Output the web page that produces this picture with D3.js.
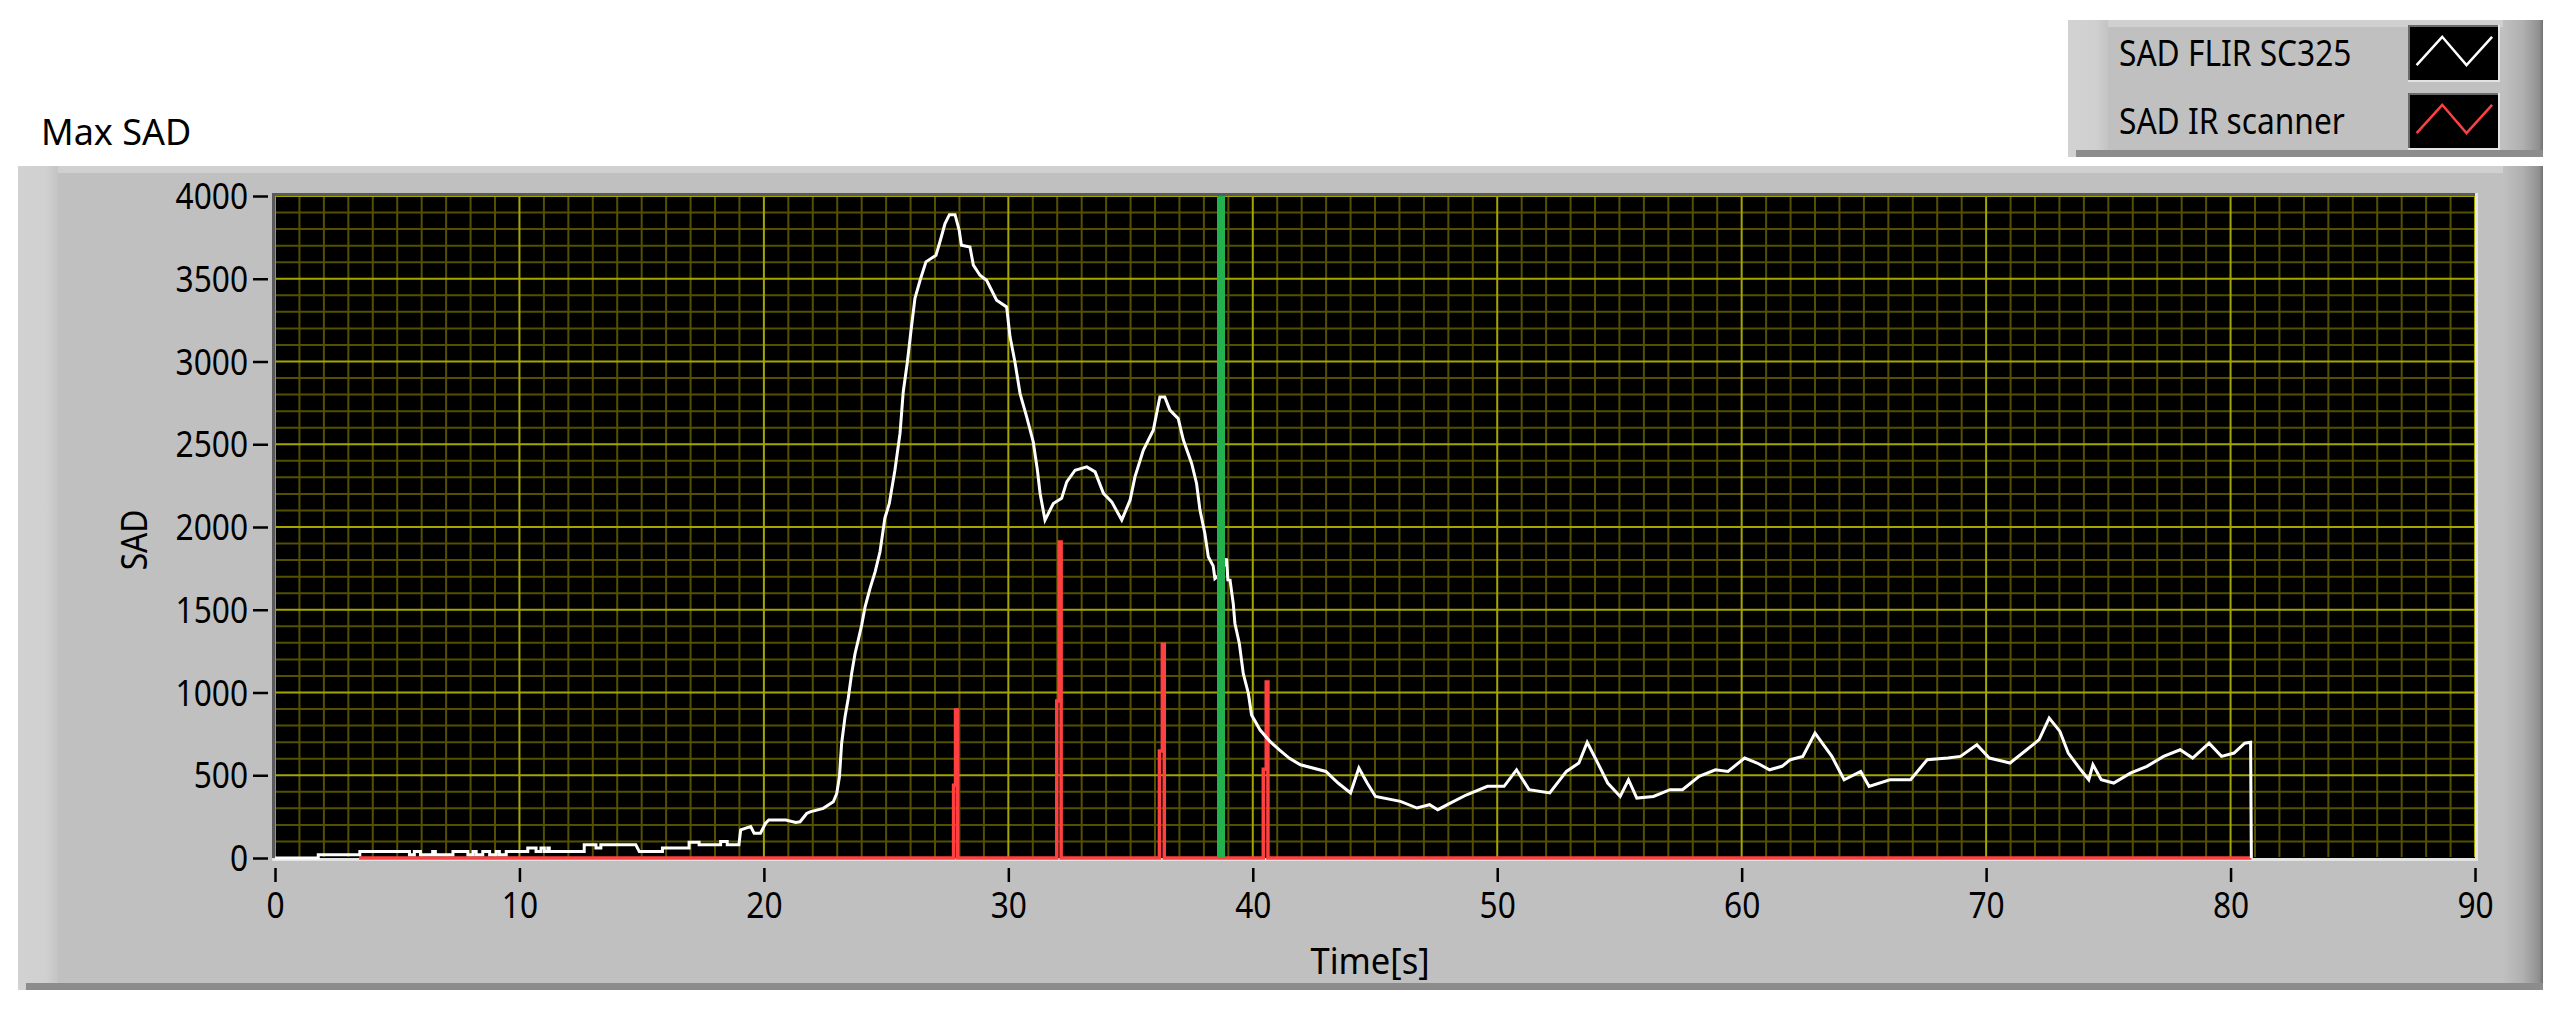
<!DOCTYPE html>
<html>
<head>
<meta charset="utf-8">
<script src="https://cdn.jsdelivr.net/npm/d3@7"></script>
<style>
  html, body { margin: 0; padding: 0; background: #ffffff; }
  svg { display: block; }
  text { font-family: "Noto Sans", "Open Sans", sans-serif; fill: #000; }
</style>
</head>
<body>
<svg id="chart" width="2564" height="1012"></svg>
<script>
// ---------------- DATA ----------------
const chartTitle = "Max SAD";
const xAxisTitle = "Time[s]";
const yAxisTitle = "SAD";
const seriesNames = ["SAD FLIR SC325", "SAD IR scanner"];
const seriesColors = ["#ffffff", "#ff4040"];

const xTicks = [0, 10, 20, 30, 40, 50, 60, 70, 80, 90];
const yTicks = [0, 500, 1000, 1500, 2000, 2500, 3000, 3500, 4000];
const cursorTime = 38.7;

// SAD FLIR SC325 (time [s], SAD)
const flirTime = [
  0, 1.77, 1.77, 3.47, 3.47, 5.5, 5.5, 5.7, 5.7, 5.95, 5.95, 6.45, 6.45, 6.56, 6.56,
  7.28, 7.28, 7.89, 7.89, 8.1, 8.1, 8.23, 8.23, 8.5, 8.5, 8.78, 8.78, 9.05, 9.05, 9.18, 9.18,
  9.46, 9.46, 10.34, 10.34, 10.68, 10.68, 10.88, 10.88, 11.02, 11.02, 11.16, 11.16, 11.22, 11.22,
  12.65, 12.65, 13.13, 13.13, 13.33, 13.33, 14.76, 14.9, 15.85, 15.85, 16.94, 16.94, 17.35, 17.35,
  18.23, 18.23, 18.5, 18.5, 18.98, 19.05, 19.46, 19.6, 19.86, 20.07, 20.2, 20.9, 21.3,
  21.48, 21.75, 21.89, 22.43, 22.84, 22.98, 23.09, 23.18, 23.32, 23.45, 23.59, 23.73, 23.86,
  24.0, 24.14, 24.34, 24.55, 24.75, 24.95, 25.13, 25.36, 25.57, 25.70, 25.87, 26.02, 26.18,
  26.39, 26.63, 27.04, 27.20, 27.41, 27.59, 27.82, 27.99, 28.08, 28.43, 28.57, 28.84, 29.11,
  29.52, 29.93, 30.07, 30.27, 30.48, 30.75, 31.02, 31.19, 31.30, 31.50, 31.84, 32.18, 32.39,
  32.73, 33.21, 33.55, 33.89, 34.23, 34.64, 34.98, 35.18, 35.52, 35.93, 36.20, 36.40, 36.61,
  36.95, 37.16, 37.50, 37.70, 37.84, 38.04, 38.18, 38.38, 38.45, 38.7, 38.93, 38.98, 39.07,
  39.20, 39.27, 39.45, 39.61, 39.82, 39.95, 40.3, 40.7, 41.1, 41.5, 41.95, 42.99, 43.49,
  44.0, 44.34, 44.68, 45.02, 46.04, 46.72, 47.23, 47.57, 48.08, 48.75, 49.6, 50.28, 50.79,
  51.3, 52.15, 52.83, 53.34, 53.68, 54.01, 54.52, 55.03, 55.37, 55.71, 56.39, 57.07, 57.58,
  58.26, 58.93, 59.44, 60.12, 60.63, 61.14, 61.65, 61.99, 62.5, 63.0, 63.69, 64.19, 64.87,
  65.21, 66.06, 66.91, 67.59, 68.44, 68.95, 69.62, 70.13, 70.98, 71.66, 72.17, 72.58, 73.02,
  73.36, 73.87, 74.2, 74.37, 74.71, 75.22, 75.9, 76.58, 77.26, 77.94, 78.45, 79.12, 79.63,
  80.14, 80.58, 80.82, 80.85
];
const flirValue = [
  0, 0, 20, 20, 40, 40, 20, 20, 40, 40, 20, 20, 40, 40, 20,
  20, 40, 40, 20, 20, 40, 40, 20, 20, 40, 40, 20, 20, 40, 40, 20,
  20, 40, 40, 60, 60, 40, 40, 60, 60, 40, 40, 60, 60, 40,
  40, 80, 80, 60, 60, 80, 80, 40, 40, 60, 60, 95, 95, 80,
  80, 100, 100, 80, 80, 170, 190, 150, 150, 210, 230, 230, 215,
  219, 269, 279, 300, 340, 390, 491, 692, 853, 964, 1115, 1236, 1317,
  1407, 1518, 1628, 1729, 1850, 2054, 2142, 2343, 2567, 2816, 2997, 3189, 3382,
  3491, 3602, 3642, 3722, 3833, 3887, 3887, 3793, 3702, 3692, 3582, 3521, 3491,
  3370, 3330, 3149, 2997, 2806, 2665, 2514, 2343, 2203, 2042, 2142, 2173, 2273,
  2343, 2363, 2333, 2203, 2152, 2042, 2162, 2303, 2464, 2585, 2786, 2786, 2706,
  2655, 2525, 2384, 2263, 2102, 1961, 1820, 1765, 1688, 1720, 1809, 1680, 1679,
  1538, 1417, 1296, 1115, 994, 864, 773, 705, 652, 602, 563, 523, 453,
  393, 544, 453, 372, 342, 302, 322, 292, 332, 382, 433, 433, 533,
  413, 393, 523, 574, 699, 604, 453, 372, 473, 362, 372, 413, 413,
  493, 533, 523, 604, 574, 533, 554, 594, 614, 755, 614, 473, 523,
  433, 473, 473, 594, 604, 614, 684, 604, 574, 654, 715, 845, 765,
  634, 533, 473, 564, 473, 453, 513, 554, 614, 654, 604, 694, 614,
  634, 694, 699, 0
];

// SAD IR scanner (time [s], SAD)
const irTime = [
  3.44, 27.76, 27.76, 27.84, 27.84, 27.92, 27.92,
  31.98, 31.98, 32.08, 32.08, 32.16, 32.16,
  36.18, 36.18, 36.3, 36.3, 36.38, 36.38,
  40.43, 40.43, 40.55, 40.55, 40.62, 40.62, 80.85
];
const irValue = [
  0, 0, 440, 440, 894, 894, 0,
  0, 948, 948, 1910, 1910, 0,
  0, 646, 646, 1292, 1292, 0,
  0, 537, 537, 1063, 1063, 0, 0
];

// ---------------- DRAW ----------------
const svg = d3.select("#chart");
const FONT = 36, SX = 0.88;

const plotL = 275, plotR = 2475, plotT = 196, plotB = 858;
const x = d3.scaleLinear().domain([0, 90]).range([plotL, plotR]);
const y = d3.scaleLinear().domain([0, 4000]).range([plotB, plotT]);

const defs = svg.append("defs");
function grad(id, stops, horiz) {
  const g = defs.append("linearGradient").attr("id", id)
    .attr("x1", 0).attr("y1", 0).attr("x2", horiz ? 1 : 0).attr("y2", horiz ? 0 : 1);
  stops.forEach(s => g.append("stop").attr("offset", s[0]).attr("stop-color", s[1]));
}
grad("leftStrip", [[0, "#d2d2d2"], [0.7, "#d0d0d0"], [1, "#c4c4c4"]], true);
grad("rightStrip", [[0, "#c0c0c0"], [0.5, "#b0b0b0"], [0.9, "#909090"], [1, "#707070"]], true);

function panel(x0, y0, x1, y1) {
  const g = svg.append("g");
  g.append("rect").attr("x", x0).attr("y", y0).attr("width", x1 - x0).attr("height", y1 - y0).attr("fill", "#c0c0c0");
  g.append("rect").attr("x", x0).attr("y", y0).attr("width", x1 - x0).attr("height", 7).attr("fill", "#d0d0d0");
  g.append("rect").attr("x", x0).attr("y", y0).attr("width", 40).attr("height", y1 - y0).attr("fill", "url(#leftStrip)");
  g.append("rect").attr("x", x1 - 40).attr("y", y0).attr("width", 40).attr("height", y1 - y0).attr("fill", "url(#rightStrip)");
  g.append("rect").attr("x", x0 + 8).attr("y", y1 - 7).attr("width", x1 - x0 - 8).attr("height", 7).attr("fill", "#8c8c8c");
  return g;
}

// main frame
panel(18, 166, 2543, 990);

// plot background
svg.append("rect").attr("x", plotL - 3).attr("y", plotT - 3).attr("width", plotR - plotL + 6).attr("height", plotB - plotT + 6).attr("fill", "#e4e4e4");
svg.append("rect").attr("x", plotL - 3).attr("y", plotT - 3).attr("width", plotR - plotL + 3).attr("height", plotB - plotT + 3).attr("fill", "#5a5a5a");
svg.append("rect").attr("x", plotL).attr("y", plotT).attr("width", plotR - plotL).attr("height", plotB - plotT).attr("fill", "#000");

const clip = defs.append("clipPath").attr("id", "plotClip");
clip.append("rect").attr("x", plotL).attr("y", plotT).attr("width", plotR - plotL).attr("height", plotB - plotT + 2);
const gridClip = defs.append("clipPath").attr("id", "gridClip");
gridClip.append("rect").attr("x", plotL).attr("y", plotT).attr("width", plotR - plotL).attr("height", plotB - plotT - 1);

const grid = svg.append("g").attr("clip-path", "url(#gridClip)");
const minorX = d3.range(0, 91, 1).filter(v => v % 10 !== 0);
const minorY = d3.range(0, 4001, 100).filter(v => v % 500 !== 0);
grid.selectAll(".mx").data(minorX).join("line")
  .attr("x1", d => x(d)).attr("x2", d => x(d)).attr("y1", plotT).attr("y2", plotB)
  .attr("stroke", "#555000").attr("stroke-width", 2);
grid.selectAll(".my").data(minorY).join("line")
  .attr("y1", d => y(d)).attr("y2", d => y(d)).attr("x1", plotL).attr("x2", plotR)
  .attr("stroke", "#555000").attr("stroke-width", 2);
grid.selectAll(".Mx").data(xTicks).join("line")
  .attr("x1", d => x(d)).attr("x2", d => x(d)).attr("y1", plotT).attr("y2", plotB)
  .attr("stroke", "#a5a500").attr("stroke-width", 2);
grid.selectAll(".My").data(yTicks.filter(v => v > 0)).join("line")
  .attr("y1", d => y(d)).attr("y2", d => y(d)).attr("x1", plotL).attr("x2", plotR)
  .attr("stroke", "#a5a500").attr("stroke-width", 2);

// series
const plotG = svg.append("g").attr("clip-path", "url(#plotClip)");
const line = d3.line().x(d => x(d[0])).y(d => y(d[1]));
const irData = irTime.map((t, i) => [t, irValue[i]]);
const flirData = flirTime.map((t, i) => [t, flirValue[i]]);

plotG.append("path").datum(irData).attr("d", line)
  .attr("fill", "none").attr("stroke", seriesColors[1]).attr("stroke-width", 3.5);
plotG.append("path").datum(flirData).attr("d", line)
  .attr("fill", "none").attr("stroke", seriesColors[0]).attr("stroke-width", 3)
  .attr("stroke-linejoin", "miter");

// cursor
plotG.append("line").attr("x1", x(cursorTime)).attr("x2", x(cursorTime))
  .attr("y1", plotT).attr("y2", plotB)
  .attr("stroke", "#22b14c").attr("stroke-width", 8);

// axes
const yAxis = d3.axisLeft(y).tickValues(yTicks).tickSize(15).tickPadding(5).tickFormat(d3.format("d"));
const yG = svg.append("g").attr("transform", "translate(268,0)").call(yAxis);
yG.select(".domain").remove();
yG.selectAll(".tick line").attr("stroke", "#000").attr("stroke-width", 2.5);
yG.selectAll(".tick text").attr("font-size", FONT).attr("font-family", "Noto Sans")
  .attr("x", -20 / SX).attr("transform", `scale(${SX},1)`).attr("dy", "0.35em");

const xAxis = d3.axisBottom(x).tickValues(xTicks).tickSize(14).tickPadding(10).tickFormat(d3.format("d"));
const xG = svg.append("g").attr("transform", "translate(0,868)").call(xAxis);
xG.select(".domain").remove();
xG.selectAll(".tick line").attr("stroke", "#000").attr("stroke-width", 2.5);
xG.selectAll(".tick text").attr("font-size", FONT).attr("font-family", "Noto Sans")
  .attr("transform", `scale(${SX},1)`);

// titles
svg.append("text").attr("transform", `translate(1370,974) scale(0.96,1)`)
  .attr("text-anchor", "middle").attr("font-size", FONT).text(xAxisTitle);
svg.append("text").attr("transform", `translate(147,540) rotate(-90) scale(${SX},1)`)
  .attr("text-anchor", "middle").attr("font-size", FONT).text(yAxisTitle);
svg.append("text").attr("transform", `translate(41,145) scale(1,1)`)
  .attr("font-size", FONT).text(chartTitle);

// legend
const lg = panel(2068, 20, 2543, 157);
const rowY = [53, 121];
seriesNames.forEach((name, i) => {
  lg.append("text").attr("transform", `translate(2119,${rowY[i] + 13}) scale(${SX},1)`)
    .attr("font-size", FONT).text(name);
  const bx = 2410, by = rowY[i] - 26, bw = 88, bh = 53;
  lg.append("rect").attr("x", bx - 2).attr("y", by - 2).attr("width", bw + 4).attr("height", bh + 4).attr("fill", "#e4e4e4");
  lg.append("rect").attr("x", bx - 2).attr("y", by - 2).attr("width", bw + 2).attr("height", bh + 2).attr("fill", "#6a6a6a");
  lg.append("rect").attr("x", bx).attr("y", by).attr("width", bw).attr("height", bh).attr("fill", "#000");
  const pts = [[0.075, 0.72], [0.366, 0.185], [0.642, 0.72], [0.933, 0.185]].map(p => [bx + p[0] * bw, by + p[1] * bh]);
  lg.append("path").attr("d", d3.line()(pts)).attr("fill", "none")
    .attr("stroke", seriesColors[i]).attr("stroke-width", 2.5);
});
</script>
</body>
</html>
